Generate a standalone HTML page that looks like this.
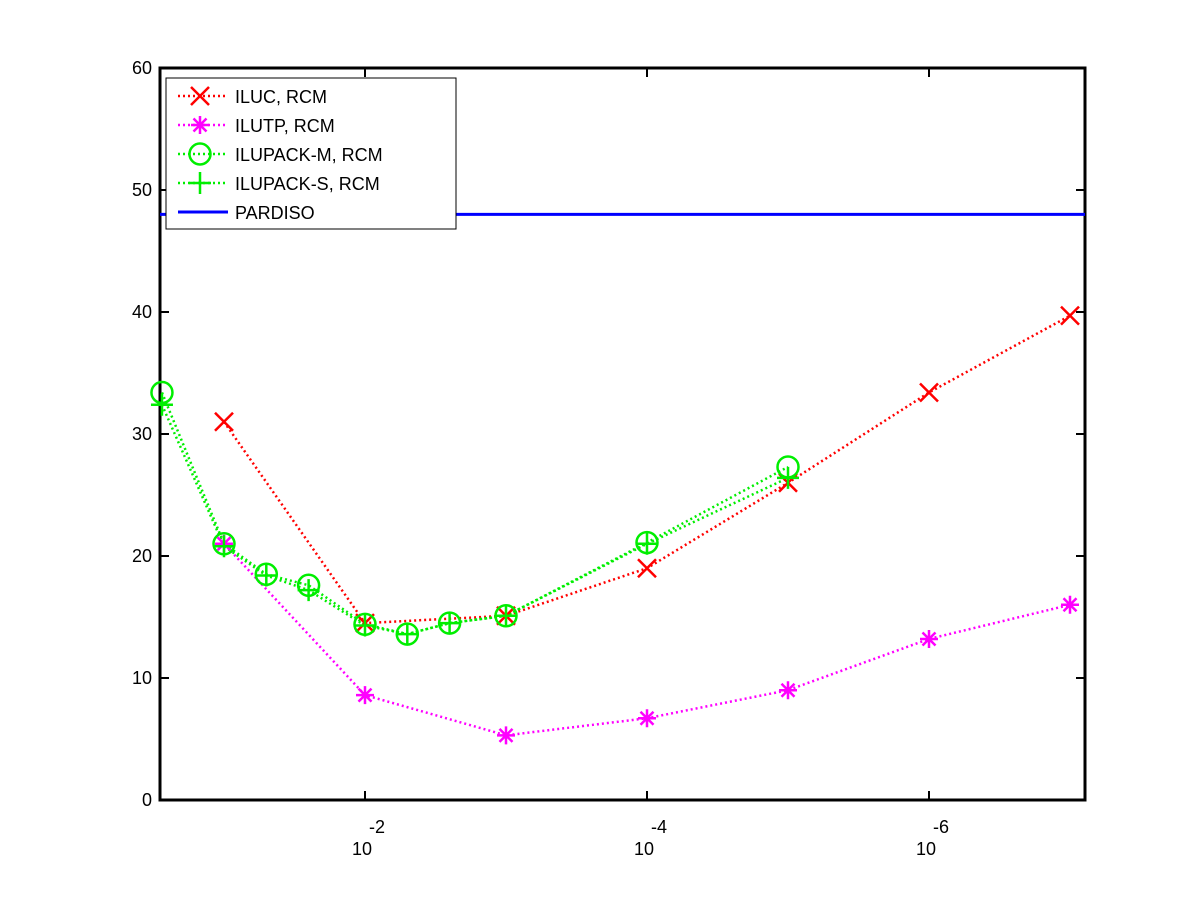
<!DOCTYPE html>
<html><head><meta charset="utf-8"><style>body{margin:0;background:#fff}svg{display:block}text{font-family:"Liberation Sans",sans-serif;font-size:18px}</style></head>
<body>
<svg id="c" width="1200" height="900" xmlns="http://www.w3.org/2000/svg"></svg>
<script>
const xTicks=[2,4,6];
const yTicks=[0,10,20,30,40,50,60];
const ilucT=[1,2,3,4,5,6,7];
const ilucV=[31,14.5,15.1,19,26,33.4,39.7];
const ilutpT=[1,2,3,4,5,6,7];
const ilutpV=[21,8.6,5.3,6.7,9,13.2,16];
const pmT=[0.56,1,1.3,1.6,2,2.3,2.6,3,4,5];
const pmV=[33.4,21,18.5,17.6,14.4,13.6,14.5,15.1,21.1,27.3];
const psT=[0.56,1,1.3,1.6,2,2.3,2.6,3,4,5];
const psV=[32.4,20.8,18.4,17.2,14.3,13.6,14.5,15.1,21,26.4];
const pardisoV=48;
const L=160,R=1085,T=68,B=800;
const X=t=>365+(t-2)*141;
const Y=v=>B-(v/60)*(B-T);
const svg=document.getElementById('c');
const NS='http://www.w3.org/2000/svg';
function mk(tag,a,name){const e=document.createElementNS(NS,tag);for(const k in a)e.setAttribute(k,a[k]);


svg.appendChild(e);return e;}
mk('rect',{x:L,y:T,width:R-L,height:B-T,fill:'none',stroke:'#000','stroke-width':3},'plot-frame');
yTicks.forEach(v=>{const y=Y(v);
mk('line',{x1:L,x2:L+9,y1:y,y2:y,stroke:'#000','stroke-width':2},'y-tick');
mk('line',{x1:R-9,x2:R,y1:y,y2:y,stroke:'#000','stroke-width':2},'y-tick');
const t=mk('text',{x:L-8,y:y+6,'text-anchor':'end'},'y-tick-label');t.textContent=v;});
xTicks.forEach(v=>{const x=X(v);
mk('line',{x1:x,x2:x,y1:B,y2:B-9,stroke:'#000','stroke-width':2},'x-tick');
mk('line',{x1:x,x2:x,y1:T,y2:T+9,stroke:'#000','stroke-width':2},'x-tick');
const t=mk('text',{x:x-3,y:855,'text-anchor':'middle'},'x-tick-label');t.textContent='10';
const s=mk('text',{x:x+12,y:833,'text-anchor':'middle'},'x-tick-exponent');s.textContent='-'+v;});
function line(ts,vs,color,name){const p=ts.map((t,i)=>X(t)+','+Y(vs[i])).join(' ');
mk('polyline',{points:p,fill:'none',stroke:color,'stroke-width':2.5,'stroke-dasharray':'2,3'},name);}
function marker(type,x,y,c,name){const s=9;
if(type==='x'){mk('path',{d:`M${x-s} ${y-s}L${x+s} ${y+s}M${x-s} ${y+s}L${x+s} ${y-s}`,stroke:c,'stroke-width':2.5},name);}
else if(type==='*'){mk('path',{d:`M${x-s} ${y}L${x+s} ${y}M${x} ${y-s}L${x} ${y+s}M${x-6.5} ${y-6.5}L${x+6.5} ${y+6.5}M${x-6.5} ${y+6.5}L${x+6.5} ${y-6.5}`,stroke:c,'stroke-width':2.5},name);}
else if(type==='o'){mk('circle',{cx:x,cy:y,r:10.5,fill:'none',stroke:c,'stroke-width':2.5},name);}
else {mk('path',{d:`M${x-11} ${y}L${x+11} ${y}M${x} ${y-11}L${x} ${y+11}`,stroke:c,'stroke-width':2.5},name);}}
mk('line',{x1:L,x2:R,y1:Y(pardisoV),y2:Y(pardisoV),stroke:'#0000ff','stroke-width':3},'pardiso-line');
line(ilucT,ilucV,'#ff0000','iluc-line');
line(ilutpT,ilutpV,'#ff00ff','ilutp-line');
line(pmT,pmV,'#00ee00','ilupack-m-line');
line(psT,psV,'#00ee00','ilupack-s-line');
ilucT.forEach((t,i)=>marker('x',X(t),Y(ilucV[i]),'#ff0000','iluc-point'));
ilutpT.forEach((t,i)=>marker('*',X(t),Y(ilutpV[i]),'#ff00ff','ilutp-point'));
pmT.forEach((t,i)=>marker('o',X(t),Y(pmV[i]),'#00ee00','ilupack-m-point'));
psT.forEach((t,i)=>marker('+',X(t),Y(psV[i]),'#00ee00','ilupack-s-point'));
mk('rect',{x:166,y:78,width:290,height:151,fill:'#fff',stroke:'#000','stroke-width':1},'legend-box');
const leg=[['ILUC, RCM','#ff0000','x'],['ILUTP, RCM','#ff00ff','*'],['ILUPACK-M, RCM','#00ee00','o'],['ILUPACK-S, RCM','#00ee00','+'],['PARDISO','#0000ff','l']];
leg.forEach((e,i)=>{const y=96+i*29;
if(e[2]==='l')mk('line',{x1:178,x2:228,y1:y,y2:y,stroke:e[1],'stroke-width':3},'legend-swatch');
else{mk('line',{x1:178,x2:228,y1:y,y2:y,stroke:e[1],'stroke-width':2.5,'stroke-dasharray':'2,3'},'legend-swatch');marker(e[2],200,y,e[1],'legend-marker');}
const t=mk('text',{x:235,y:y+7},'legend-entry');t.textContent=e[0];});
</script>
</body></html>
